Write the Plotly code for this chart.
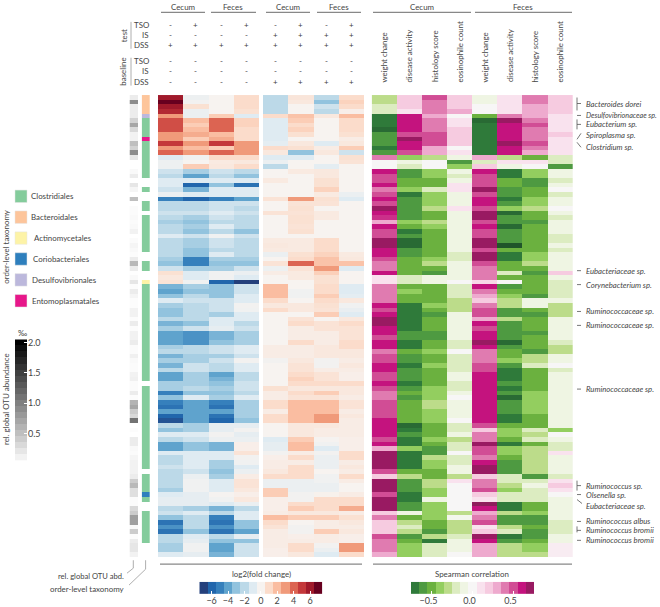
import plotly.graph_objects as go

# Values, one row per OTU, top to bottom.
log2fc_dss = [
    [6, -0.4, 0, 1], [7, -0.2, 0, 1], [6, 0.8, 0, 1], [5.5, -0.5, 0, 0.8], [3, -0.5, 1.5, -1],
    [4.5, 2, 4, 1.3], [4.5, 1.5, 4, 1.3], [4.5, 2, 4, 1], [3, 2.5, 2, 1], [3, 1.5, 2.5, 1],
    [5, 3, 5, 3], [3, 2, 1.5, 3], [4, 3, 4, 3], [-1, -0.3, 1, 1], [-0.4, 0, 0.4, 0.5],
    [-0.4, 1.5, 0.5, 1], [-1.5, -2.5, -1.5, -2], [-2, -4, -2, -3], [-1, -1, -1, -1], [-1, -6, -3, -5.5],
    [-1.5, -3.5, -1, -1], [-0.5, -1, -1, -1], [-5, -6, -5, -4], [-2, -2, -1.5, -1.5], [-2, -2, -1.5, -2],
    [-1.5, -1.5, -1, -1.5], [-2, -2.5, -1.5, -2], [-2.5, -3, -2, -2], [-2, -2.5, -1, -2], [-2, -3, -2, -3],
    [-1, -1.5, -0.3, -1.5], [-2, -2.5, -1.5, -2], [-2, -2.5, -1.5, -2], [-2, -3, -2, -2], [-2, -3, -1, -2],
    [-2.5, -5, -2.5, -2.5], [-3, -5, -3, -3], [-1.5, -2.5, -2.5, -1.5], [0.8, -1, -0.3, -0.5], [0.5, -1, -0.3, -1],
    [0.7, -0.3, -6, -7], [-3.5, -2.5, -3, -1.5], [-4, -3, -3, -1.5], [-3, -2, -3, -1], [-1, -1.5, -1.5, -1],
    [-2.5, -2, -1.5, -0.2], [-3, -2, -1.5, -0.3], [-3, -2, -2.5, -1], [-2, -2, -1, -1], [-3.5, -3, -1, -2],
    [-2.5, -1.5, -0.7, -1.5], [-4, -4.5, -3.5, -2.5], [-4, -4.5, -3.5, -2.5], [-4, -4.5, -3, -2.5], [-2.5, -2, -1.5, -1],
    [-2, -2, -1.5, -1], [-3.5, -2.5, -2.5, -1.5], [-2.5, -2.5, -1.5, -0.2], [-3.5, -1.5, -2, -1], [-2, -1.5, -2, -1],
    [-4, -2.5, -4, -2], [-4, -2.5, -3.5, -2], [-2.5, -2.5, -3, -1.5], [-2.5, -2, -2.5, -1.5], [-5, -3, -3, -2],
    [-3, -1, -2.5, -1], [-5, -4, -5, -2.5], [-5.5, -4, -5.5, -2.5], [-4, -4, -4, -2.5], [-6, -4, -5.5, -2.5],
    [-6.5, -4, -6, -3], [-2, -2.5, -0.7, -0.7], [-3, -2.5, -0.7, -0.2], [-1, -1, -0.2, -0.7], [-2, -1.5, -0.5, -0.5],
    [-4, -3, -3.5, 0.2], [-4, -3, -3.5, 0.2], [-1, -1, -1, 0.7], [-2, -1, -1, -0.2], [-2, -1, -2.5, -0.3],
    [-1.5, -1, -2.5, -1], [-2, -1.5, -3, -0.5], [-2, -0.5, -2.5, 0.3], [-2, -0.3, -1, 0.7], [-2, -0.3, -1, 0.7],
    [-2.5, -0.3, -1, 0.5], [-1, -0.7, -0.1, 0.2], [-0.7, -0.7, -0.3, 0.5], [-0.7, -0.7, -1, -0.5], [-2, -2.5, -3.5, -2],
    [-1.5, -1, -2, -1], [-3, -2, -5, -1], [-5.5, -2, -5.5, -3], [-4.5, -2, -4.5, -3], [-5.5, -3, -5.5, -4],
    [-2, -1, -2, -0.7], [-2, -0.7, -3, -3], [-2.5, -0.3, -4, -1.5], [-2.5, -0.3, -4, -1.5], [-1, -0.7, -3.5, -1.5],
]
log2fc_is = [
    [-2, 0.6, -2, 1], [-2, 0.5, -3, 1.3], [-2, 0, -1.5, 1], [-2, 0, -2, 0.2], [1, 1.8, 0.5, 2],
    [-1, 1.5, 0, 1], [-1, 1, 0, 1], [-1, 1.3, 0, 1], [-1, 0.8, 0, 0.8], [-1, 0, 0, 0.3],
    [-0.8, 0.5, -1, 0.5], [1, 0.8, 0.3, 1.5], [0.5, -3, 0.5, -1.5], [-1, -1, 0, 0.8], [-0.5, 0, 0, 0.7],
    [-2, 0, -0.8, 0], [0, 0.4, 0.5, 0], [0, 0, 0.5, 0], [0.4, 0, 0.8, 0], [0, 0, 0.8, 0],
    [0, 0, 1.3, 0], [0, 0, 0.4, -0.5], [0.7, 3, 0.8, -1], [0, 0.7, 0.7, 0], [0, 0.8, 0, 0],
    [0.7, 0.7, 0.4, 0], [0, 0.8, 0.4, 0], [0, 0.8, 0, 0], [0, 0.7, 0, 0], [0, 0.8, 0, 0],
    [0, 0, 0, 0], [0.4, 0.4, 1, 0], [0.5, 0.4, 1, 0], [0.4, 0.4, 1, 0], [-0.5, 0.8, 1.3, 0.4],
    [0, 1, 1.8, 0.5], [0.7, 4, 1.8, 1.8], [-0.4, 0.7, 3, -1], [0.3, 0.4, 1.4, 0], [0, 0.4, 0.8, 0],
    [0, 0, 0.8, 0], [2, 0, 1, -1], [2, -0.3, 1, -1], [2, -0.3, 1.5, -0.8], [1, 0, 1, 0.5],
    [0.5, 0.5, 0.8, -0.3], [1, 0.5, 0.7, -0.6], [0, 0, 1.5, -1], [0, 0.7, 0, 0.5], [0, 1, 0.7, 1],
    [0, 0.3, 0.7, 0.7], [0, 0.3, 0.3, 0.7], [0, 0.3, 0.3, 0.7], [0, 1, 0.3, 1], [0.3, 0.3, 0.5, 1],
    [0.3, 0.3, 0.5, 0.5], [0.3, 0.3, 0.5, 0.5], [-0.2, 0.5, -0.2, 0.3], [0, 0.7, -0.2, 0.5], [0, 0.7, 0.3, 0.3],
    [0, 1, 0.7, 0.2], [0, 1.3, 0.7, 0.2], [0, 1, 1, 1], [0.8, 0.5, 0.5, 0.5], [0.3, 1, 1.5, 0.5],
    [0.3, 0.7, 0.7, 0.3], [1, 2, 2, 0.7], [1, 2, 2, 0.7], [0.3, 2, 2, 0.3], [1, 2, 3, 0.5],
    [1, 2, 3, 0.3], [0, 0.5, 0.5, 0.3], [0, 0.5, 0.3, 0.3], [0, 0.5, 0.3, 0.3], [-1, 1.5, -0.1, 0.2],
    [-0.7, 2, -0.3, 0.2], [-0.7, 2, -1, 0.2], [-0.2, 0.3, -0.2, 1], [0.2, 1, -0.5, 1], [0.3, 0.3, -0.5, 0.3],
    [0.3, 1, -0.5, 0.5], [0.5, 1, 0, 0.3], [1, 1, -0.3, 1], [-0.5, -0.5, -0.3, 0.3], [-0.5, -0.5, -0.5, 0],
    [1.5, -0.5, -0.5, 0], [1.5, -0.2, 0.1, 0.3], [0.2, -0.2, 1, 1], [0.2, 1, 1, 1], [0.2, 1.5, 1, 2.5],
    [0.3, 0.5, 0.5, 0.3], [2, 1.5, 1.5, 0.8], [1, 0, 0.3, 0.5], [0.7, -0.2, 0.3, 0.3], [0.3, -0.2, 1.5, 0.5],
    [0.3, 0.2, 0.3, 0.2], [0.3, 0.3, 0.3, 0.2], [0.3, 1, -0.2, 3], [0.2, 1, -0.5, 3], [0.2, 0.5, -1, 1],
]
corr_cecum = [
    [-0.3, 0.2, 0.5, 0.2], [-0.3, 0.2, 0.4, 0.2], [-0.2, 0.2, 0.4, 0.2], [-0.2, 0.1, 0.4, 0.3], [-0.7, 0.6, 0.3, 0],
    [-0.7, 0.6, 0.4, 0.1], [-0.7, 0.6, 0.4, 0.1], [-0.8, 0.6, 0.4, 0.2], [-0.6, 0.5, 0.5, 0.2], [-0.6, 0.7, 0.5, 0.2],
    [-0.6, 0.6, 0.5, 0.2], [-0.7, 0.6, 0.3, 0], [-0.6, 0.5, 0.3, 0.1], [0.4, -0.4, -0.3, -0.1], [0, -0.1, 0, -0.6],
    [0, -0.2, 0, -0.4], [0.6, -0.6, -0.4, -0.1], [0.5, -0.6, -0.4, -0.2], [0.5, -0.5, -0.5, -0.1], [0.6, -0.5, -0.5, 0.1],
    [0.4, -0.4, -0.2, 0.1], [0.5, -0.7, -0.4, -0.1], [0.6, -0.6, -0.4, -0.1], [0.5, -0.6, -0.4, -0.1], [0.7, -0.6, -0.3, 0.1],
    [0.6, -0.6, -0.5, -0.1], [0.55, -0.6, -0.5, -0.1], [0.3, -0.4, -0.3, -0.1], [0.6, -0.5, -0.4, -0.1], [0.5, -0.7, -0.5, -0.1],
    [0.5, -0.6, -0.5, -0.1], [0.7, -0.8, -0.5, -0.1], [0.7, -0.8, -0.5, -0.1], [0.6, -0.6, -0.5, -0.1], [0.6, -0.6, -0.5, -0.2],
    [0.5, -0.5, -0.4, -0.2], [0.4, -0.5, -0.3, -0.1], [0.4, -0.5, -0.5, -0.1], [0.6, -0.5, -0.6, -0.1], [0.1, -0.2, -0.1, -0.1],
    [0.1, -0.2, -0.1, 0], [0.4, -0.5, -0.5, -0.2], [0.4, -0.4, -0.5, -0.2], [0.4, -0.5, -0.5, -0.2], [0.4, -0.5, -0.5, -0.3],
    [0.6, -0.7, -0.4, -0.3], [0.5, -0.7, -0.5, -0.3], [0.6, -0.7, -0.6, -0.1], [0.7, -0.7, -0.5, -0.1], [0.7, -0.7, -0.5, -0.1],
    [0.6, -0.7, -0.5, -0.1], [0.6, -0.6, -0.6, -0.1], [0.5, -0.6, -0.6, -0.1], [0.6, -0.7, -0.5, -0.2], [0.6, -0.7, -0.5, -0.2],
    [0.4, -0.5, -0.4, 0], [0.5, -0.6, -0.5, -0.2], [0.5, -0.6, -0.5, -0.2], [0.6, -0.7, -0.4, -0.2], [0.6, -0.6, -0.5, -0.2],
    [0.5, -0.6, -0.5, -0.1], [0.5, -0.6, -0.5, -0.1], [0.6, -0.7, -0.5, -0.2], [0.5, -0.6, -0.4, -0.2], [0.4, -0.5, -0.4, -0.1],
    [0.4, -0.6, -0.4, 0], [0.5, -0.5, -0.3, -0.1], [0.5, -0.5, -0.3, -0.1], [0.5, -0.5, -0.4, -0.1], [0.5, -0.5, -0.4, -0.1],
    [0.6, -0.5, -0.4, 0], [0.6, -0.8, -0.5, -0.2], [0.6, -0.7, -0.5, -0.2], [0.6, -0.6, -0.5, -0.1], [0.5, -0.7, -0.4, -0.3],
    [0.6, -0.7, -0.5, -0.2], [0.3, -0.4, -0.6, -0.2], [0.7, -0.7, -0.6, 0], [0.7, -0.7, -0.3, -0.2], [0.7, -0.7, -0.4, -0.2],
    [0.7, -0.7, -0.4, -0.1], [0.5, -0.5, -0.5, -0.1], [0.2, -0.3, -0.5, -0.3], [0.7, -0.6, -0.3, 0.1], [0.7, -0.6, -0.3, 0],
    [0.7, -0.6, -0.4, 0], [0.5, -0.7, -0.4, 0], [0.7, -0.7, -0.1, 0], [0.7, -0.6, -0.4, 0], [0.7, -0.6, -0.4, 0],
    [0.2, -0.1, -0.4, -0.3], [0.4, -0.5, -0.4, -0.05], [0.2, -0.3, -0.5, -0.3], [0.2, -0.2, -0.5, -0.3], [0.2, -0.3, -0.6, -0.3],
    [0.5, -0.6, -0.3, -0.2], [0.4, -0.5, -0.7, -0.1], [0.4, -0.4, -0.2, -0.1], [0.4, -0.4, -0.2, -0.1], [0.3, -0.4, -0.2, 0],
]
corr_feces = [
    [-0.1, 0.1, 0.4, 0.2], [-0.1, 0.1, 0.4, 0.2], [0, 0.1, 0.3, 0.2], [0, 0.1, 0.3, 0.2], [-0.5, 0.4, 0.3, 0.1],
    [-0.8, 0.7, 0.4, 0.1], [-0.7, 0.6, 0.5, 0.1], [-0.7, 0.6, 0.4, 0.1], [-0.7, 0.6, 0.4, 0.2], [-0.7, 0.6, 0.4, 0.1],
    [-0.7, 0.7, 0.5, 0.1], [-0.7, 0.6, 0.4, 0.1], [-0.7, 0.6, 0.3, 0.1], [0.3, -0.3, -0.5, -0.2], [-0.2, 0.1, 0.1, -0.2],
    [0.2, -0.1, 0, -0.6], [0.6, -0.7, -0.4, -0.1], [0.5, -0.7, -0.4, -0.1], [0.5, -0.5, -0.6, -0.2], [0.5, -0.5, -0.6, -0.1],
    [0.7, -0.6, -0.5, 0], [0.5, -0.6, -0.5, -0.2], [0.6, -0.7, -0.4, -0.1], [0.6, -0.6, -0.4, -0.1], [0.5, -0.4, -0.3, 0],
    [0.7, -0.8, -0.5, -0.1], [0.7, -0.6, -0.5, -0.2], [0.5, -0.6, -0.6, -0.1], [0.6, -0.8, -0.5, -0.1], [0.5, -0.6, -0.5, -0.1],
    [0.5, -0.6, -0.5, -0.2], [0.7, -0.6, -0.5, -0.2], [0.7, -0.9, -0.5, -0.1], [0.5, -0.5, -0.5, -0.2], [0.7, -0.7, -0.4, -0.1],
    [0.7, -0.7, -0.4, -0.1], [0.5, -0.5, -0.3, -0.1], [0.4, -0.5, -0.5, -0.1], [0.4, -0.2, -0.6, 0.2], [0.4, -0.5, -0.5, -0.1],
    [0.15, 0, -0.5, -0.2], [0.6, -0.6, -0.5, -0.2], [0.4, -0.5, -0.5, -0.2], [0.3, -0.4, -0.6, -0.2], [0.2, -0.3, -0.1, -0.1],
    [0.4, -0.3, -0.1, -0.3], [0.5, -0.6, -0.5, -0.3], [0.5, -0.6, -0.6, -0.3], [0.3, -0.3, -0.5, -0.1], [0.6, -0.6, -0.5, -0.1],
    [0.5, -0.6, -0.5, -0.1], [0.6, -0.6, -0.6, -0.1], [0.6, -0.6, -0.5, -0.1], [0.7, -0.8, -0.5, -0.2], [0.6, -0.6, -0.5, -0.3],
    [0.4, -0.5, -0.6, -0.3], [0.4, -0.5, -0.3, -0.1], [0.4, -0.4, -0.3, -0.1], [0.5, -0.6, -0.2, 0], [0.5, -0.7, -0.5, -0.2],
    [0.6, -0.7, -0.5, -0.1], [0.6, -0.7, -0.5, -0.1], [0.6, -0.6, -0.5, -0.1], [0.6, -0.7, -0.5, -0.1], [0.6, -0.6, -0.4, -0.1],
    [0.6, -0.8, -0.4, -0.1], [0.6, -0.6, -0.4, -0.1], [0.6, -0.6, -0.4, -0.1], [0.6, -0.6, -0.4, -0.1], [0.6, -0.7, -0.5, -0.1],
    [0.6, -0.7, -0.5, -0.1], [0.5, -0.5, -0.5, -0.1], [0.2, -0.4, -0.2, -0.4], [0.4, -0.4, -0.3, 0], [0.4, -0.5, -0.2, -0.1],
    [0.7, -0.7, -0.5, -0.2], [0.5, -0.4, -0.3, -0.2], [0.5, -0.4, -0.3, 0.1], [0.4, -0.5, -0.3, -0.1], [0.6, -0.6, -0.3, -0.1],
    [0.7, -0.6, -0.3, -0.1], [0.7, -0.6, -0.3, -0.1], [0.2, -0.2, -0.6, -0.2], [0.4, -0.2, -0.2, 0.1], [0.4, -0.3, -0.1, 0.2],
    [0.5, -0.4, -0.2, 0.1], [0.2, -0.2, -0.2, 0], [0.1, -0.2, -0.2, -0.1], [0.8, -0.7, -0.5, -0.1], [0.6, -0.7, -0.5, -0.1],
    [0.3, -0.3, -0.4, -0.1], [0.4, -0.6, -0.6, -0.1], [0.5, -0.6, -0.6, -0.2], [0.1, -0.3, -0.5, -0.2], [0.2, -0.2, -0.6, -0.2],
    [0.7, -0.7, -0.6, -0.1], [0.6, -0.6, -0.5, -0.1], [0.3, -0.3, -0.4, 0.05], [0.3, -0.3, -0.4, 0.05], [0.3, -0.3, -0.3, 0.05],
]
baseline_abund = [
    0.15, 0.9, 0.15, 0.15, 0.15, 0.35, 0.7, 0.3, 0.1, 0.1,
    0.5, 0.35, 0.9, 0.2, 0, 0, 0.05, 0.15, 0, 0.2,
    0.08, 0, 0.5, 0, 0.03, 0.03, 0.05, 0.03, 0.05, 0.1,
    0, 0.03, 0.08, 0.05, 0.02, 0.15, 0.55, 0.15, 0.01, 0.05,
    0.2, 0.02, 0.15, 0.08, 0.02, 0.02, 0.1, 0.1, 0.02, 0.15,
    0.02, 0.1, 0.1, 0.15, 0.03, 0.03, 0.12, 0.05, 0.03, 0.03,
    0.1, 0.12, 0.03, 0.03, 0.15, 0.02, 0.6, 0.7, 0.4, 0.3,
    1.1, 0, 0.02, 0, 0.15, 0.15, 0.05, 0.03, 0.08, 0.1,
    0.1, 0.1, 0.15, 0.4, 0.55, 0.25, 0.25, 0.03, 0.03, 0.3,
    0.4, 0.75, 0.75, 0.05, 0.4, 0.02, 0.15, 0.2, 0.2, 0.1,
]
# One letter per row, "." where the reference leaves the strip empty.
order_rows = ("BBBB" "D" "CCCC" "E" "CCCCCCCC" ".." "C" ".." "CC" "." "CCCCCCCC" ".." "CC" ".."
              "A" + "C" * 21 + "." + "C" * 18 + "." + "CCCC" "K" "C" ".." + "C" * 7 + "...")

order_names = ["Clostridiales", "Bacteroidales", "Actinomycetales",
               "Coriobacteriales", "Desulfovibrionales", "Entomoplasmatales"]
order_letters = ["C", "B", "A", "K", "D", "E"]
order_colors = ["#84cc9c", "#fdc59b", "#fdf3a7", "#2e7fbd", "#bcb8dc", "#e7178a"]

tso_test = ["-", "+", "-", "+", "-", "+", "-", "+"]
is_test = ["-", "-", "-", "-", "+", "+", "+", "+"]
dss_test = ["+"] * 8
tso_base = ["-"] * 8
is_base = ["-"] * 8
dss_base = ["-", "-", "-", "-", "+", "+", "+", "+"]
score_labels = ["weight change", "disease activity", "histology score", "eosinophile count"]

fold_bins = list(range(-7, 8))
corr_bins = [-0.7, -0.6, -0.5, -0.4, -0.3, -0.2, -0.1, 0, 0.1, 0.2, 0.3, 0.4, 0.5, 0.6, 0.7]
abund_bins = [0.1 * i for i in range(1, 21)]

fold_colors = ["#24407c", "#2166ac", "#3680bc", "#5fa3cd", "#92c3de", "#bcd9e8", "#dfebf2", "#f7f3f0",
               "#fbdccb", "#fabda1", "#f09a7a", "#dc6452", "#c4383a", "#a01a2b", "#67001f"]
corr_colors = ["#20552a", "#296a34", "#2f7a3a", "#4e9a41", "#6bb13f", "#93ce5f", "#bcdc8a", "#dcecc1", "#eff5e3",
               "#f7f6f6", "#f9e2ee", "#f6cbe0", "#eeaace", "#e07bb0", "#d14d95", "#c4137e", "#991a62", "#8e1d5c", "#7f1450"]

W, H = 660, 607
FONT = "Lato"
TEXT = "#444444"


def xd(a, b):
    return [a / W, b / W]


def yd(top, bottom):
    return [1 - bottom / H, 1 - top / H]


def scale(colors):
    return [[i / (len(colors) - 1), c] for i, c in enumerate(colors)]


fold_scale = scale(fold_colors)
corr_scale = scale(corr_colors)
grey_scale = [[0, "#ffffff"], [1, "#000000"]]

annotations = []
shapes = []


def label(text, x, y, size=7.9, anchor="center", angle=0, yanchor="middle"):
    annotations.append(dict(text=text, x=x / W, y=1 - y / H, xref="paper", yref="paper", showarrow=False,
                            xanchor=anchor, yanchor=yanchor, textangle=angle, borderpad=0,
                            font=dict(family=FONT, size=size, color=TEXT)))


def line(x0, y0, x1, y1, color="#555555", width=0.8):
    shapes.append(dict(type="line", xref="paper", yref="paper", x0=x0 / W, x1=x1 / W,
                       y0=1 - y0 / H, y1=1 - y1 / H, line=dict(color=color, width=width)))


fig = go.Figure()
TOP, BOTTOM = 92.5, 556.7
hidden = dict(visible=False, showgrid=False, zeroline=False)
axes = {}


def panel(n, z, zmin, zmax, colorscale, left, right, top=TOP, bottom=BOTTOM):
    fig.add_trace(go.Heatmap(z=z, zmin=zmin, zmax=zmax, colorscale=colorscale, showscale=False,
                             hoverongaps=False, xaxis=f"x{n}", yaxis=f"y{n}"))
    axes[f"xaxis{n}"] = dict(domain=xd(left, right), anchor=f"y{n}", **hidden)
    axes[f"yaxis{n}"] = dict(domain=yd(top, bottom), anchor=f"x{n}", autorange="reversed", **hidden)


# main heatmaps
panel(1, log2fc_dss, -7, 7, fold_scale, 158, 259.2)
panel(2, log2fc_is, -7, 7, fold_scale, 263, 364)
corr_rows = [a + b for a, b in zip(corr_cecum, corr_feces)]
panel(3, corr_rows, -0.9, 0.9, corr_scale, 371.7, 573)

# side strips
panel(4, [[v] for v in baseline_abund], 0, 2, grey_scale, 129.5, 138)
order_z = [[order_letters.index(c)] if c != "." else [None] for c in order_rows]
order_scale = []
for i, c in enumerate(order_colors):
    order_scale += [[i / 6, c], [(i + 1) / 6, c]]
panel(5, order_z, -0.5, 5.5, order_scale, 141.7, 150)

# scale bars, drawn as small heatmaps with their own axes
panel(6, [fold_bins], -7, 7, fold_scale, 199.3, 322.3, 581.7, 594)
axes["xaxis6"] = dict(domain=xd(199.3, 322.3), anchor="y6", range=[-7.5, 7.5], showgrid=False, zeroline=False,
                      tickvals=[-6, -4, -2, 0, 2, 4, 6], ticktext=["\u22126", "\u22124", "\u22122", "0", "2", "4", "6"],
                      ticks="inside", tickcolor="white", ticklen=3, tickwidth=1, showline=False,
                      tickfont=dict(family=FONT, size=9, color=TEXT))
fig.data[-1].x = fold_bins

panel(7, [corr_bins], -0.9, 0.9, corr_scale, 411, 534, 581.7, 594)
axes["xaxis7"] = dict(domain=xd(411, 534), anchor="y7", range=[-0.75, 0.75], showgrid=False, zeroline=False,
                      tickvals=[-0.5, 0, 0.5], ticktext=["\u22120.5", "0.0", "0.5"], ticklabelshift=-3,
                      ticks="inside", tickcolor="white", ticklen=3, tickwidth=1, showline=False,
                      tickfont=dict(family=FONT, size=9, color=TEXT))
fig.data[-1].x = corr_bins

panel(8, [[v] for v in abund_bins], 0, 2, grey_scale, 15, 27, 338, 460)
axes["yaxis8"] = dict(domain=yd(338, 460), anchor="x8", side="right", range=[0.05, 2.05], showgrid=False, zeroline=False,
                      tickvals=[0.5, 1, 1.5, 2], ticktext=["0.5", "1.0", "1.5", "2.0"],
                      ticks="inside", tickcolor="white", ticklen=3, tickwidth=1, showline=False,
                      tickfont=dict(family=FONT, size=9, color=TEXT))
fig.data[-1].y = abund_bins

# group headers above the heatmaps
for name, cx, x0, x1 in [("Cecum", 183, 161, 205), ("Feces", 233, 211, 256),
                         ("Cecum", 288, 266, 310), ("Feces", 339, 317, 361),
                         ("Cecum", 422, 373, 471), ("Feces", 523, 475, 572)]:
    label(name, cx, 4)
    line(x0, 9.5, x1, 9.5, color="#888888", width=1.2)

# treatment design
col_x = [170.7, 195.7, 221, 246, 275, 300, 326, 351]
design = [("TSO", 22, tso_test), ("IS", 32, is_test), ("DSS", 42.5, dss_test),
          ("TSO", 58.5, tso_base), ("IS", 68.5, is_base), ("DSS", 79, dss_base)]
for name, y, signs in design:
    label(name, 150, y, anchor="right")
    for cx, sign in zip(col_x, signs):
        label(sign, cx, y, size=8)
label("test", 123.5, 33, angle=-90)
label("baseline", 123, 69, angle=-90)
line(131, 19, 131, 46, color="#999999")
line(131, 55, 131, 83, color="#999999")

# correlation column titles
for i, cx in enumerate([384, 409.5, 434.5, 460, 485, 510, 535, 560]):
    label(score_labels[i % 4], cx, 81, angle=-90, yanchor="bottom")

# species labels
species = [("Bacteroides dorei", 101), ("Desulfovibrionaceae sp.", 112.7), ("Eubacterium sp.", 122),
           ("Spiroplasma sp.", 133), ("Clostridium sp.", 145), ("Eubacteriaceae sp.", 269),
           ("Corynebacterium sp.", 283), ("Ruminococcaceae sp.", 310), ("Ruminococcaceae sp.", 324),
           ("Ruminococcaceae sp.", 388), ("Ruminococcus sp.", 485), ("Olsenella sp.", 494),
           ("Eubacteriaceae sp.", 505), ("Ruminococcus albus", 521), ("Ruminococcus bromii", 530),
           ("Ruminococcus bromii", 540)]
for name, y in species:
    # the longest name has to stay inside the page
    size = 7.2 if len(name) > 20 else 7.7
    label(f"<i>{name}</i>", 585, y, size=size, anchor="left")
for y in [113, 269, 283, 310, 324, 388, 494, 521, 540]:
    line(577, y, 581, y)
for y0, y1, y in [(95, 108, 101), (117, 127, 122), (480, 490, 485), (526, 532, 530)]:
    line(577, y0, 577, y1)
    line(577, y, 581, y)
line(577, 137, 581, 131)
line(577, 140, 581, 145)
line(577, 499, 582, 503)

# bottom captions
line(160, 564, 362, 564, color="#888888", width=1.2)
line(373, 564, 572, 564, color="#888888", width=1.2)
label("log2(fold change)", 261, 574)
label("Spearman correlation", 472, 574)
label("rel. global OTU abd.", 125, 576, size=7.6, anchor="right")
label("order-level taxonomy", 125, 589, anchor="right")
line(133.3, 560, 133.3, 568, color="#999999")
line(133.3, 568, 127, 573, color="#999999")
line(145.6, 560, 145.6, 569, color="#999999")
line(145.6, 569, 129, 585, color="#999999")

# order legend
legend_y = [188, 209, 230, 251, 272, 293]
legend_x = [30, 30, 33, 32, 31, 31]
for name, color, y, x in zip(order_names, order_colors, legend_y, legend_x):
    shapes.append(dict(type="rect", xref="paper", yref="paper", x0=15 / W, x1=27 / W, y0=1 - (y + 12.5) / H,
                       y1=1 - y / H, fillcolor=color, line=dict(color="#e4e4e4", width=0.5)))
    label(name, x, y + 6, anchor="left")
label("order-level taxonomy", 6, 245, angle=-90)
label("rel. global OTU abundance", 6, 398, angle=-90)
label("\u2030", 22, 332)

fig.update_layout(width=W, height=H, autosize=False, margin=dict(l=0, r=0, t=0, b=0),
                  paper_bgcolor="white", plot_bgcolor="white", showlegend=False,
                  annotations=annotations, shapes=shapes, **axes)

# the browser's default body margin would push the whole figure 8px off
fig.write_html("out.html", config={"displayModeBar": False},
               post_script="document.body.style.margin='0';")
